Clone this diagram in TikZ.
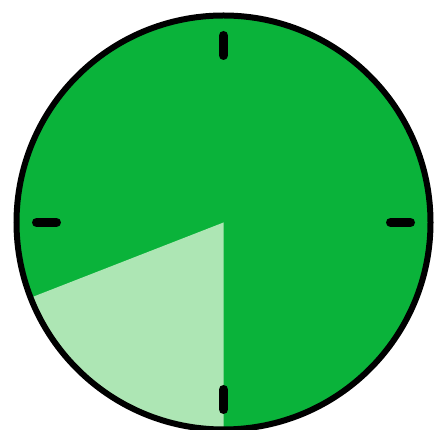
\documentclass[tikz,border=0pt]{standalone}
\usepackage{tikz}
\usetikzlibrary{calc}
\definecolor{FaceGreen}{RGB}{10,179,58}
\definecolor{SliceGreen}{RGB}{173,230,180}

\begin{document}
\begin{tikzpicture}[x=1pt, y=1pt,
    face/.style={fill=FaceGreen},
    slice/.style={fill=SliceGreen},
    rim/.style={draw=black, line width=6pt},
    tickmark/.style={draw=black, line width=9pt, line cap=round}]

\useasboundingbox (0,0) rectangle (436,430);

% centre of the dial
\coordinate (c) at (223.5,207.5);

% face and elapsed slice
\fill[face] (c) circle[radius=207];
\fill[slice] (c) -- ++(270:207) arc[start angle=270, end angle=201.3, radius=207] -- cycle;

% hour ticks
\foreach \a in {0,90,180,270}
  \draw[tickmark] ($(c)+(\a:167)$) -- ($(c)+(\a:187)$);

% rim
\draw[rim] (c) circle[radius=207];
\end{tikzpicture}
\end{document}
